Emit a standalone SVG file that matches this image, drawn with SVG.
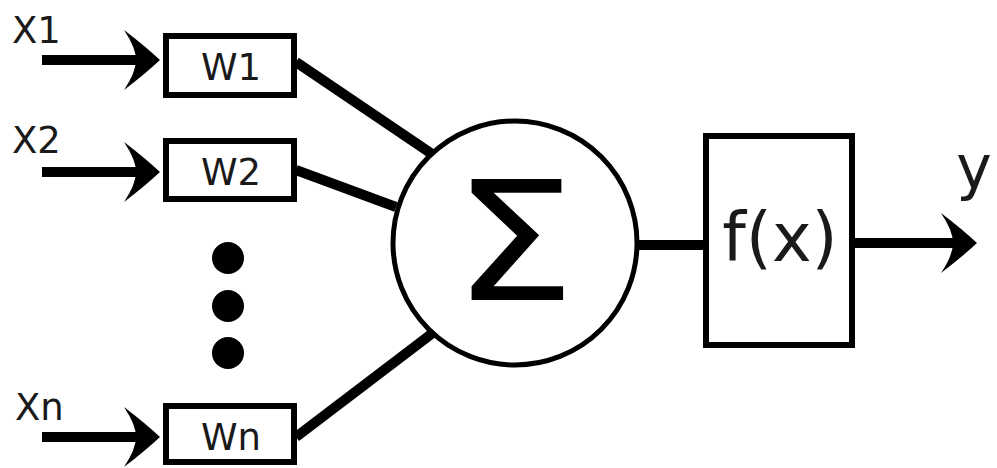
<svg xmlns="http://www.w3.org/2000/svg" width="997" height="468" viewBox="0 0 997 468">
  <style>
    .box { fill: #fff; stroke: #000; stroke-width: 6; }
    .ring { fill: #fff; stroke: #000; stroke-width: 5; }
    .wire { fill: none; stroke: #000; stroke-width: 10; }
    .lbl { font-family: "DejaVu Sans", Verdana, sans-serif; fill: #1a1a1a; }
    .sigma { fill: #000; }
  </style>
  <defs>
    <!-- barbed arrowhead; tip at origin, shaft joins at the notch (x=-24) -->
    <marker id="head" markerUnits="userSpaceOnUse" markerWidth="40" markerHeight="64" viewBox="-38 -32 40 64" refX="-24" refY="0" orient="auto">
      <path d="M0,0 Q-15,-14 -36,-30 Q-24,-12 -24,0 Q-24,12 -36,30 Q-15,14 0,0 Z" fill="#000"/>
    </marker>
  </defs>
  <rect width="997" height="468" fill="#fff"/>

  <g id="connectors">
    <line class="wire" x1="42" y1="60" x2="136" y2="60" marker-end="url(#head)"/>
    <line class="wire" x1="42" y1="172" x2="136" y2="172" marker-end="url(#head)"/>
    <line class="wire" x1="42" y1="437" x2="136" y2="437" marker-end="url(#head)"/>
    <line class="wire" x1="296" y1="62" x2="432" y2="154"/>
    <line class="wire" x1="296" y1="170" x2="396" y2="207"/>
    <line class="wire" x1="296" y1="437" x2="434" y2="332"/>
    <line class="wire" x1="636" y1="245" x2="706" y2="245"/>
    <line class="wire" x1="852" y1="243" x2="953" y2="243" marker-end="url(#head)"/>
  </g>

  <g id="x1"><text class="lbl" x="12" y="43" font-size="37">X1</text></g>
  <g id="x2"><text class="lbl" x="12" y="153" font-size="37">X2</text></g>
  <g id="xn"><text class="lbl" x="15" y="420" font-size="37">Xn</text></g>

  <g id="w1">
    <rect class="box" x="166" y="36" width="128" height="59"/>
    <text class="lbl" x="231" y="80" font-size="37" text-anchor="middle">W1</text>
  </g>
  <g id="w2">
    <rect class="box" x="166" y="141" width="128" height="58"/>
    <text class="lbl" x="231" y="185" font-size="37" text-anchor="middle">W2</text>
  </g>
  <g id="wn">
    <rect class="box" x="166" y="406" width="128" height="56"/>
    <text class="lbl" x="231" y="450" font-size="37" text-anchor="middle">Wn</text>
  </g>

  <g id="ellipsis" fill="#000">
    <circle cx="228" cy="258" r="16"/>
    <circle cx="228" cy="306" r="16"/>
    <circle cx="228" cy="353" r="16"/>
  </g>

  <g id="sum">
    <circle class="ring" cx="515" cy="243" r="122"/>
    <text class="lbl sigma" font-size="165" text-anchor="middle" transform="translate(514,300) scale(1.18,1)">Σ</text>
  </g>

  <g id="activation">
    <rect class="box" x="706" y="136" width="146" height="209"/>
    <text class="lbl" x="780" y="261" font-size="67" text-anchor="middle">f(x)</text>
  </g>

  <g id="y"><text class="lbl" x="974" y="188" font-size="60" text-anchor="middle">y</text></g>
</svg>
